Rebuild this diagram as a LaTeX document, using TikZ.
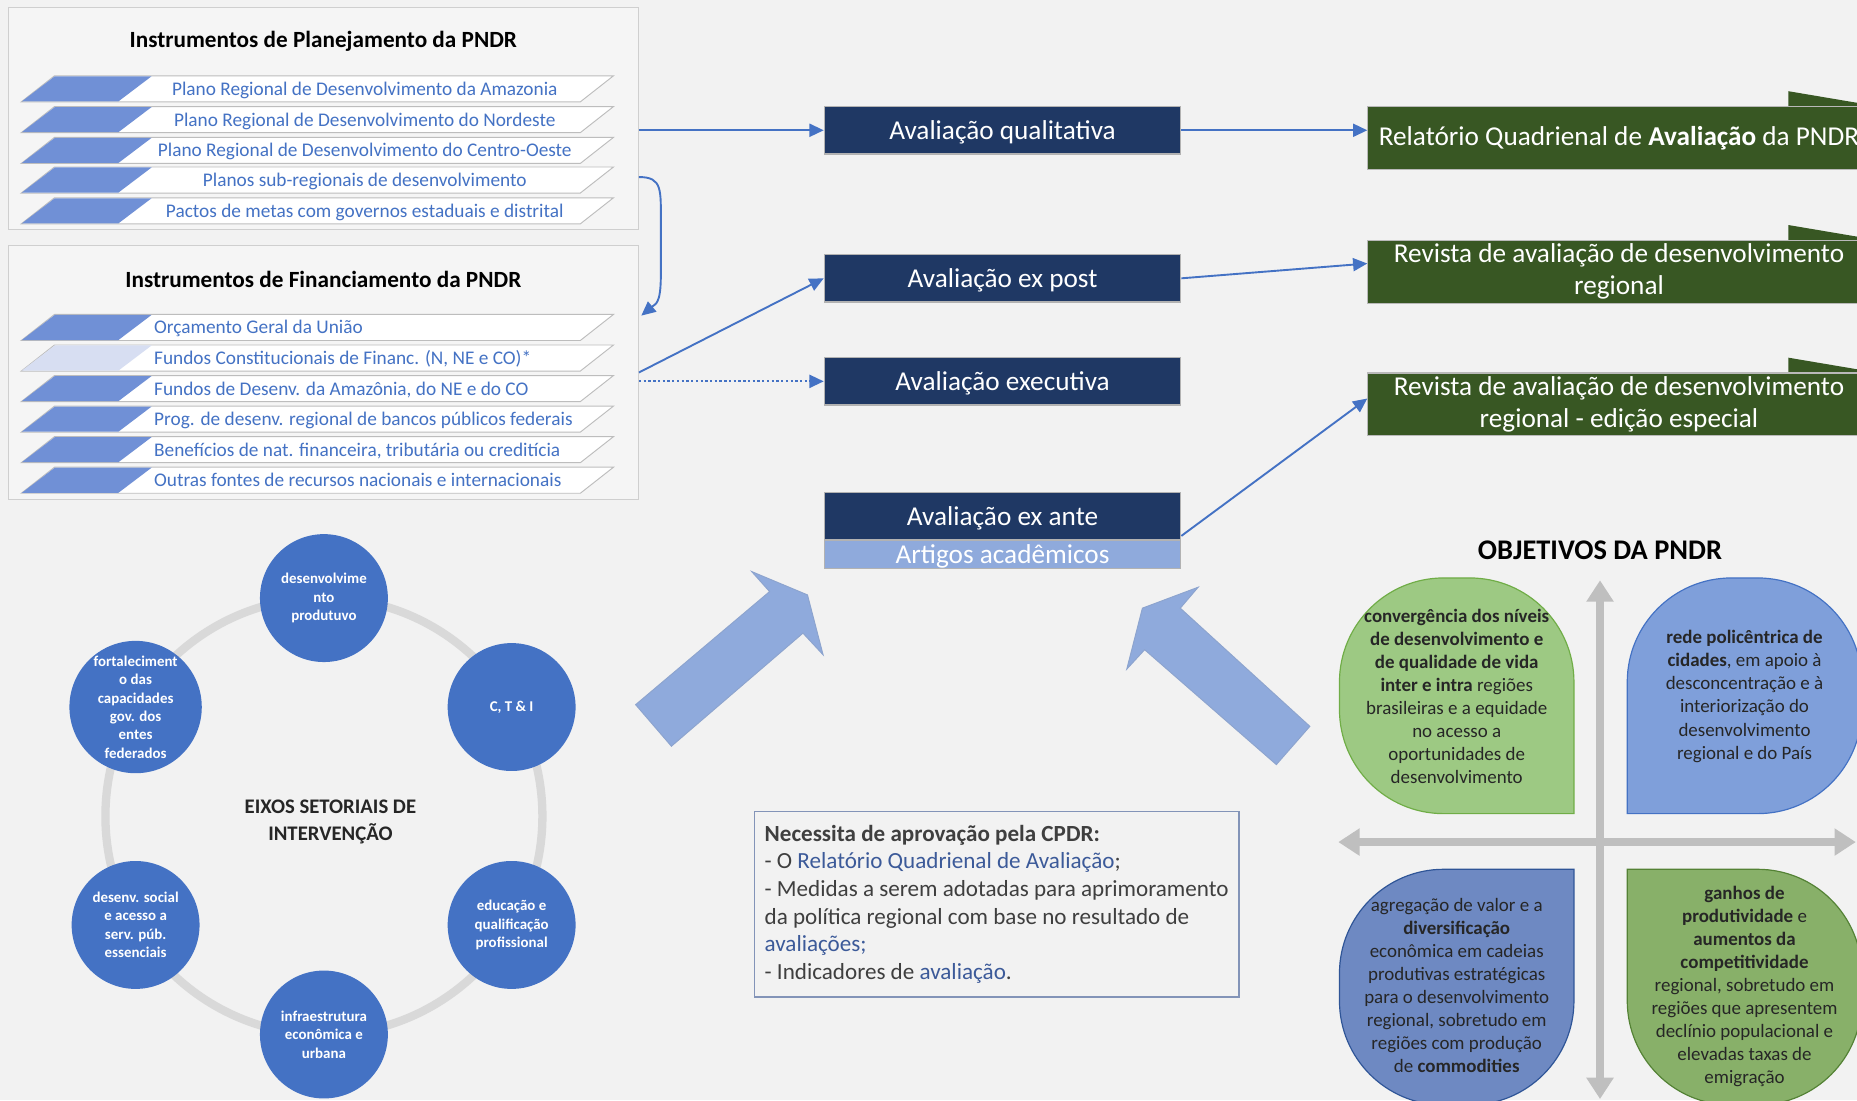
\documentclass[tikz,border=0pt]{standalone}
\usepackage{fontspec}
\setmainfont{Carlito}
\usetikzlibrary{arrows.meta,calc}
\definecolor{bg}{HTML}{F2F2F2}
\definecolor{panelfill}{HTML}{F5F5F5}
\definecolor{paneledge}{HTML}{CFCFCF}
\definecolor{rowedge}{HTML}{BDBDBD}
\definecolor{rowblue}{HTML}{7090D6}
\definecolor{rowlight}{HTML}{D7DEF2}
\definecolor{txtblue}{HTML}{4472C4}
\definecolor{navy}{HTML}{1F3864}
\definecolor{lightnavy}{HTML}{8FAADC}
\definecolor{dgreen}{HTML}{385723}
\definecolor{arrblue}{HTML}{4472C4}
\definecolor{bigarrow}{HTML}{8FAADC}
\definecolor{circblue}{HTML}{4472C4}
\definecolor{ringgray}{HTML}{D9D9D9}
\definecolor{axisgray}{HTML}{BFBFBF}
\definecolor{qgreen}{HTML}{9DC983}
\definecolor{qgreenedge}{HTML}{70AD47}
\definecolor{qblue}{HTML}{7F9FDA}
\definecolor{qblueedge}{HTML}{4472C4}
\definecolor{qslate}{HTML}{6E89C2}
\definecolor{qslateedge}{HTML}{2F5597}
\definecolor{qolive}{HTML}{88B069}
\definecolor{qoliveedge}{HTML}{548235}
\definecolor{notebox}{HTML}{8394B8}
\definecolor{notetxt}{HTML}{3F3F3F}
\definecolor{noteblue}{HTML}{3C5A99}
\definecolor{darktxt}{HTML}{262626}
\newcommand\planrow[4]{%
  \filldraw[draw=rowedge, fill=white, line width=0.8] (18,#2+11) -- (46,#2-11) -- (518,#2-11) -- (490,#2+11) -- cycle;
  \fill[#3] (18.5,#2+10.6) -- (46.3,#2-10.6) -- (128,#2-10.6) -- (100,#2+10.6) -- cycle;
  \node[rowtext] (#1) at (308,#2) {#4};}
\newcommand\finrow[4]{%
  \filldraw[draw=rowedge, fill=white, line width=0.8] (18,#2+11) -- (46,#2-11) -- (518,#2-11) -- (490,#2+11) -- cycle;
  \fill[#3] (18.5,#2+10.6) -- (46.3,#2-10.6) -- (128,#2-10.6) -- (100,#2+10.6) -- cycle;
  \node[rowtext, anchor=west] (#1) at (130,#2) {#4};}
\begin{document}
\begin{tikzpicture}[x=1pt,y=-1pt,
  panel/.style={draw=paneledge, fill=panelfill, line width=1, minimum width=532, inner sep=0},
  paneltitle/.style={font=\fontsize{19.6}{22}\selectfont\bfseries, text=black, inner sep=0},
  rowtext/.style={font=\fontsize{16.3}{18}\selectfont, text=txtblue, inner sep=0, text height=11, text depth=0},
  navybox/.style={draw=gray!60, line width=1, fill=navy, text=white, minimum width=301, minimum height=40, inner sep=0, font=\fontsize{23}{27}\selectfont, text height=15, text depth=0},
  lightbox/.style={navybox, fill=lightnavy, minimum height=24},
  greenbox/.style={draw=gray!55, line width=1, fill=dgreen, text=white, minimum width=424, minimum height=53, inner sep=0, align=center, font=\fontsize{23}{27}\selectfont},
  thinarrow/.style={draw=arrblue, line width=1.6, -{Triangle[width=11pt,length=12pt]}},
  bigarr/.style={fill=bigarrow, draw=bigarrow!85!gray, line width=0.8},
  eixo/.style={circle, fill=circblue, minimum size=108, inner sep=0, text=white, align=center, font=\fontsize{12.6}{15.5}\selectfont\bfseries},
  quadtext/.style={align=center, text=darktxt, inner sep=0, font=\fontsize{16}{19.5}\selectfont},
  axis/.style={draw=axisgray, line width=7, {Triangle[width=22pt,length=18pt]}-{Triangle[width=22pt,length=18pt]}}
]
\useasboundingbox (0,0) rectangle (1568,929);
\clip (0,0) rectangle (1568,929);
\fill[bg] (0,0) rectangle (1568,929);

% ---------- planning panel ----------
\node[panel, minimum height=188] (planbox) at (273,100) {};
\node[paneltitle] (plantitle) at (273,35) {Instrumentos de Planejamento da PNDR};
\planrow{pa1}{75}{rowblue}{Plano Regional de Desenvolvimento da Amazonia}
\planrow{pa2}{101}{rowblue}{Plano Regional de Desenvolvimento do Nordeste}
\planrow{pa3}{127}{rowblue}{Plano Regional de Desenvolvimento do Centro-Oeste}
\planrow{pa4}{152}{rowblue}{Planos sub-regionais de desenvolvimento}
\planrow{pa5}{178}{rowblue}{Pactos de metas com governos estaduais e distrital}

% ---------- financing panel ----------
\node[panel, minimum height=215] (finbox) at (273,314.5) {};
\node[paneltitle] (fintitle) at (273,236) {Instrumentos de Financiamento da PNDR};
\finrow{fi1}{276.5}{rowblue}{Orçamento Geral da União}
\finrow{fi2}{302.3}{rowlight}{Fundos Constitucionais de Financ. (N, NE e CO)*}
\finrow{fi3}{328.1}{rowblue}{Fundos de Desenv. da Amazônia, do NE e do CO}
\finrow{fi4}{353.9}{rowblue}{Prog. de desenv. regional de bancos públicos federais}
\finrow{fi5}{379.7}{rowblue}{Benefícios de nat. financeira, tributária ou creditícia}
\finrow{fi6}{405.5}{rowblue}{Outras fontes de recursos nacionais e internacionais}

% ---------- evaluation boxes ----------
\node[navybox] (qual) at (846.5,110) {Avaliação qualitativa};
\node[navybox] (expost) at (846.5,235) {Avaliação ex post};
\node[navybox] (exec) at (846.5,322) {Avaliação executiva};
\node[navybox] (exante) at (846.5,436) {Avaliação ex ante};
\node[lightbox] (artigos) at (846.5,468) {Artigos acadêmicos};

% ---------- products ----------
\fill[dgreen] (1510,77) -- (1587,90) -- (1510,90) -- cycle;
\fill[dgreen] (1510,190) -- (1587,203) -- (1510,203) -- cycle;
\fill[dgreen] (1510,302) -- (1587,315) -- (1510,315) -- cycle;
\node[greenbox] (rel) at (1367,116.5) {Relatório Quadrienal de \textbf{Avaliação} da PNDR};
\node[greenbox] (rev1) at (1367,229.5) {Revista de avaliação de desenvolvimento\\regional};
\node[greenbox] (rev2) at (1367,341.5) {Revista de avaliação de desenvolvimento\\regional - edição especial};

% ---------- connectors ----------
\draw[thinarrow] (planbox.east |- qual.west) -- (qual.west);
\draw[thinarrow] (qual.east) -- (rel.west |- qual.east);
\draw[thinarrow] ($(planbox.south east)+(0,-45)$) .. controls +(20,0) and +(0,-30) .. (558,190) -- (558,232) .. controls +(0,25) and +(12,-10) .. ($(finbox.north east)+(2,60)$);
\draw[thinarrow] (finbox.east) -- (expost.west);
\draw[thinarrow, dash pattern=on 2pt off 2pt] (finbox.east |- exec.west) -- (exec.west);
\draw[thinarrow] (expost.east) -- ($(rev1.west)+(0,-7)$);
\draw[thinarrow] ($(exante.south east)+(0,-4)$) -- ($(rev2.west)+(0,-5)$);

% ---------- big arrows ----------
\filldraw[bigarr] (536.7,595) -- (649.8,499.5) -- (634.7,482.6) -- (681.8,502.3) -- (695,552.9) -- (678,534.6) -- (566.9,630.1) -- cycle;
\filldraw[bigarr] (1106,613.3) -- (996.6,513.5) -- (1011.7,495.8) -- (964.6,513.5) -- (951.4,565) -- (966.5,548.6) -- (1077.7,645.6) -- cycle;

% ---------- sector axes ----------
\draw[ringgray, line width=7] (273.5,689.2) circle (184.5);
\node[eixo] (c1) at (273.5,505) {desenvolvime\\nto\\produtuvo};
\node[eixo] (c2) at (432,597) {C, T \& I};
\node[eixo] (c3) at (432,781) {educação e\\qualificação\\profissional};
\node[eixo] (c4) at (273.5,873.5) {infraestrutura\\econômica e\\urbana};
\node[eixo] (c5) at (114.5,781) {desenv. social\\e acesso a\\serv. púb.\\essenciais};
\node[eixo] (c6) at (114.5,597) {fortaleciment\\o das\\capacidades\\gov. dos\\entes\\federados};
\node[align=center, text=darktxt, font=\fontsize{17.5}{22}\selectfont\bfseries, inner sep=0] (eixos) at (279,694) {EIXOS SETORIAIS DE\\INTERVENÇÃO};

% ---------- note ----------
\node[draw=notebox, line width=1.2, fill=bg, minimum width=409, minimum height=157, inner sep=0, align=left, text=notetxt, font=\fontsize{19.5}{23.4}\selectfont] (note) at (841.5,763.5)
{\textbf{Necessita de aprovação pela CPDR:}\\
- O \textcolor{noteblue}{Relatório Quadrienal de Avaliação};\\
- Medidas a serem adotadas para aprimoramento\\
da política regional com base no resultado de\\
\textcolor{noteblue}{avaliações;}\\
- Indicadores de \textcolor{noteblue}{avaliação}.};

% ---------- objectives ----------
\node[font=\fontsize{24}{28}\selectfont\bfseries, text=black, inner sep=0] (objtitle) at (1351,465) {OBJETIVOS DA PNDR};
\filldraw[fill=qgreen, draw=qgreenedge, line width=1] (1329,687) -- (1219,687) arc[start angle=90,end angle=180,radius=88] -- (1131,576) arc[start angle=180,end angle=270,radius=88] -- (1241,488) arc[start angle=270,end angle=360,radius=88] -- cycle;
\filldraw[fill=qblue, draw=qblueedge, line width=1] (1374,687) -- (1374,576) arc[start angle=180,end angle=270,radius=88] -- (1484,488) arc[start angle=270,end angle=360,radius=88] -- (1572,599) arc[start angle=0,end angle=90,radius=88] -- cycle;
\filldraw[fill=qslate, draw=qslateedge, line width=1] (1329,734) -- (1329,845) arc[start angle=0,end angle=90,radius=88] -- (1219,933) arc[start angle=90,end angle=180,radius=88] -- (1131,822) arc[start angle=180,end angle=270,radius=88] -- cycle;
\filldraw[fill=qolive, draw=qoliveedge, line width=1] (1374,734) -- (1484,734) arc[start angle=270,end angle=360,radius=88] -- (1572,845) arc[start angle=0,end angle=90,radius=88] -- (1462,933) arc[start angle=90,end angle=180,radius=88] -- cycle;
\draw[axis] (1130,711) -- (1567,711);
\draw[axis] (1351,490) -- (1351,928);
\node[quadtext] (q1) at (1230,588) {\textbf{convergência dos níveis}\\\textbf{de desenvolvimento e}\\\textbf{de qualidade de vida}\\\textbf{inter e intra} regiões\\brasileiras e a equidade\\no acesso a\\oportunidades de\\desenvolvimento};
\node[quadtext] (q2) at (1473,588) {\textbf{rede policêntrica de}\\\textbf{cidades}, em apoio à\\desconcentração e à\\interiorização do\\desenvolvimento\\regional e do País};
\node[quadtext] (q3) at (1230,832) {agregação de valor e a\\\textbf{diversificação}\\econômica em cadeias\\produtivas estratégicas\\para o desenvolvimento\\regional, sobretudo em\\regiões com produção\\de \textbf{commodities}};
\node[quadtext] (q4) at (1473,833) {\textbf{ganhos de}\\\textbf{produtividade} e\\\textbf{aumentos da}\\\textbf{competitividade}\\regional, sobretudo em\\regiões que apresentem\\declínio populacional e\\elevadas taxas de\\emigração};
\end{tikzpicture}
\end{document}
